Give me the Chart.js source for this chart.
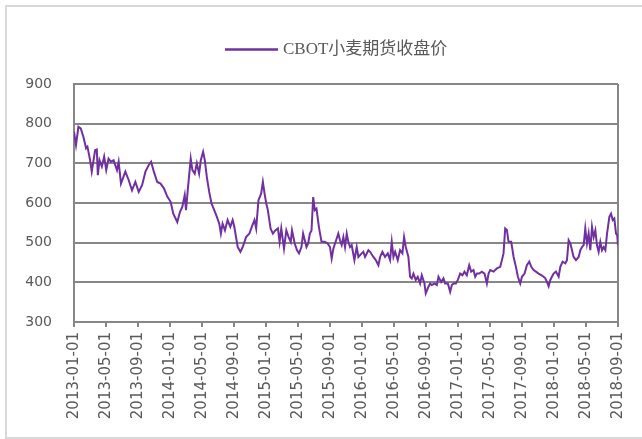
<!DOCTYPE html>
<html>
<head>
<meta charset="utf-8">
<script src="https://cdn.jsdelivr.net/npm/chart.js@4.4.1/dist/chart.umd.min.js"></script>
<style>
  html, body { margin: 0; padding: 0; background: #fff; overflow: hidden; }
  #wrap { position: relative; width: 642px; height: 439px; }
  #frame { position: absolute; left: 5px; top: 5px; width: 700px; height: 430px; border: 2px solid #d9d9d9; }
  #c { position: absolute; left: 0; top: 0; }
</style>
</head>
<body>
<div id="wrap">
  <div id="frame"></div>
  <canvas id="c" width="642" height="439"></canvas>
</div>
<script>
// Tick labels every 4 months, month index 0 = 2013-01-01
const tickLabels = ["2013-01-01","2013-05-01","2013-09-01","2014-01-01","2014-05-01","2014-09-01",
  "2015-01-01","2015-05-01","2015-09-01","2016-01-01","2016-05-01","2016-09-01",
  "2017-01-01","2017-05-01","2017-09-01","2018-01-01","2018-05-01","2018-09-01"];
const seriesName = "CBOT小麦期货收盘价";
// Month offsets from 2013-01-01
const monthIdx = [0,0.25,0.55,0.84,1.17,1.51,1.68,2.01,2.22,2.64,2.85,2.98,3.19,3.48,3.77,4.03,4.32,4.61,4.95,5.37,5.58,5.87,6.42,6.83,7.25,7.67,8.09,8.51,8.93,9.35,9.64,9.98,10.40,10.82,11.24,11.66,12.08,12.41,12.91,13.25,13.54,13.84,14.00,14.26,14.59,14.80,15.09,15.35,15.64,15.85,16.14,16.35,16.60,16.90,17.19,17.53,17.86,18.16,18.36,18.57,18.87,19.20,19.54,19.83,20.04,20.46,20.80,21.09,21.51,21.93,22.22,22.56,22.77,23.06,23.40,23.61,23.82,24.03,24.23,24.57,24.86,25.16,25.49,25.70,25.91,26.25,26.54,26.83,27.09,27.25,27.59,27.88,28.13,28.43,28.64,28.85,29.06,29.27,29.48,29.69,29.90,30.10,30.31,30.61,30.94,31.36,31.70,32.00,
  32.21,32.42,32.63,33.04,33.25,33.46,33.67,33.88,34.09,34.29,34.50,34.71,35.05,35.34,35.55,35.96,36.17,36.38,36.80,37.01,37.42,37.72,38.05,38.26,38.55,38.88,39.22,39.51,39.72,39.93,40.14,40.47,40.76,41.05,41.26,41.47,41.80,42.01,42.22,42.43,42.72,42.97,43.26,43.47,43.81,43.97,44.31,44.52,44.72,45.06,45.35,45.56,45.89,46.18,46.39,46.73,47.02,47.23,47.44,47.73,47.98,48.27,48.56,48.81,49.10,49.40,49.65,49.94,50.15,50.36,50.65,50.98,51.32,51.61,51.82,52.03,52.44,52.86,53.28,53.49,53.69,53.90,54.11,54.32,54.65,54.95,55.24,55.49,55.78,55.99,56.32,56.61,56.91,57.16,57.45,57.74,58.07,58.41,58.70,58.91,59.12,59.33,59.54,59.74,59.95,60.24,60.58,60.79,61.08,61.41,61.62,61.83,62.04,62.25,62.45,62.75,63.08,63.29,63.50,63.71,63.91,64.12,64.33,64.54,64.75,64.96,65.17,65.37,65.58,65.79,66.00,66.21,66.42,66.63,66.92,67.13,67.34,67.54,67.75,67.90,68.00];
// CBOT wheat closing price (cents/bushel)
const price = [780,746,792,788,767,738,742,708,679,733,735,670,708,692,717,683,712,704,708,683,704,649,679,658,632,653,628,645,679,696,704,679,653,649,637,616,603,573,552,578,590,620,582,641,712,683,674,700,674,708,729,708,666,628,599,582,565,548,523,548,531,557,540,557,540,489,477,489,514,523,540,557,536,607,624,653,624,599,582,536,523,531,536,502,536,485,531,514,502,531,498,481,473,489,523,506,489,498,523,531,615,582,586,540,502,502,498,489,
  460,485,498,523,506,494,514,489,523,502,489,494,456,489,464,473,477,464,481,477,464,456,443,464,477,464,473,456,502,464,477,456,481,473,514,489,464,414,410,422,406,414,397,418,397,372,389,397,393,397,393,414,401,410,397,397,376,393,397,397,406,422,418,427,418,443,427,431,414,422,422,427,422,397,422,431,427,435,439,456,473,536,532,502,502,464,439,414,397,414,422,443,452,439,431,427,422,418,414,410,401,390,406,414,422,427,414,439,452,448,456,506,498,481,464,456,464,481,489,494,536,498,523,481,540,514,531,494,477,502,481,489,481,523,565,573,557,561,523,519,494];

const points = monthIdx.map((m, i) => ({ x: m, y: price[i] }));
const gridGray = '#878787';
const textGray = '#595959';

const framePlugin = {
  id: 'frame',
  beforeDatasetsDraw(chart) {
    const { ctx, chartArea: a } = chart;
    ctx.save();
    ctx.strokeStyle = gridGray;
    ctx.lineWidth = 2;
    ctx.beginPath();
    ctx.moveTo(a.right, a.top);
    ctx.lineTo(a.right, a.bottom);
    ctx.stroke();
    ctx.restore();
  },
  afterDraw(chart) {
    const ctx = chart.ctx;
    ctx.save();
    ctx.strokeStyle = '#7030A0';
    ctx.lineWidth = 2.5;
    ctx.beginPath();
    ctx.moveTo(225, 49.5);
    ctx.lineTo(278, 49.5);
    ctx.stroke();
    ctx.fillStyle = textGray;
    ctx.font = '17px "Liberation Serif", "Noto Sans CJK SC"';
    ctx.textBaseline = 'middle';
    ctx.textAlign = 'left';
    ctx.fillText(seriesName, 283, 50);
    ctx.restore();
  }
};

new Chart(document.getElementById('c'), {
  type: 'line',
  data: {
    datasets: [{
      label: seriesName,
      data: points,
      borderColor: '#7030A0',
      backgroundColor: '#7030A0',
      borderWidth: 2,
      pointRadius: 0,
      tension: 0,
      fill: false
    }]
  },
  options: {
    responsive: false,
    animation: false,
    events: [],
    layout: { padding: { left: 10, right: 24, top: 84, bottom: 0 } },
    plugins: { legend: { display: false }, tooltip: { enabled: false } },
    scales: {
      x: {
        type: 'linear',
        min: 0,
        max: 68,
        afterBuildTicks(axis) {
          axis.ticks = tickLabels.map((_, i) => ({ value: i * 4 }));
        },
        afterFit(axis) { axis.height = 117; },
        ticks: {
          autoSkip: false,
          maxRotation: 90,
          minRotation: 90,
          padding: 5,
          color: textGray,
          font: { family: 'DejaVu Sans', size: 15 },
          callback: (v) => tickLabels[Math.round(v / 4)]
        },
        grid: { drawOnChartArea: false, drawTicks: true, tickLength: 5, color: gridGray, lineWidth: 2 },
        border: { display: true, color: gridGray, width: 2 }
      },
      y: {
        min: 300,
        max: 900,
        afterFit(axis) { axis.width = 64; },
        ticks: {
          stepSize: 100,
          padding: 22,
          color: textGray,
          font: { family: 'DejaVu Sans', size: 14 }
        },
        grid: { drawTicks: false, color: gridGray, lineWidth: 2 },
        border: { display: true, color: gridGray, width: 2 }
      }
    }
  },
  plugins: [framePlugin]
});
</script>
</body>
</html>
